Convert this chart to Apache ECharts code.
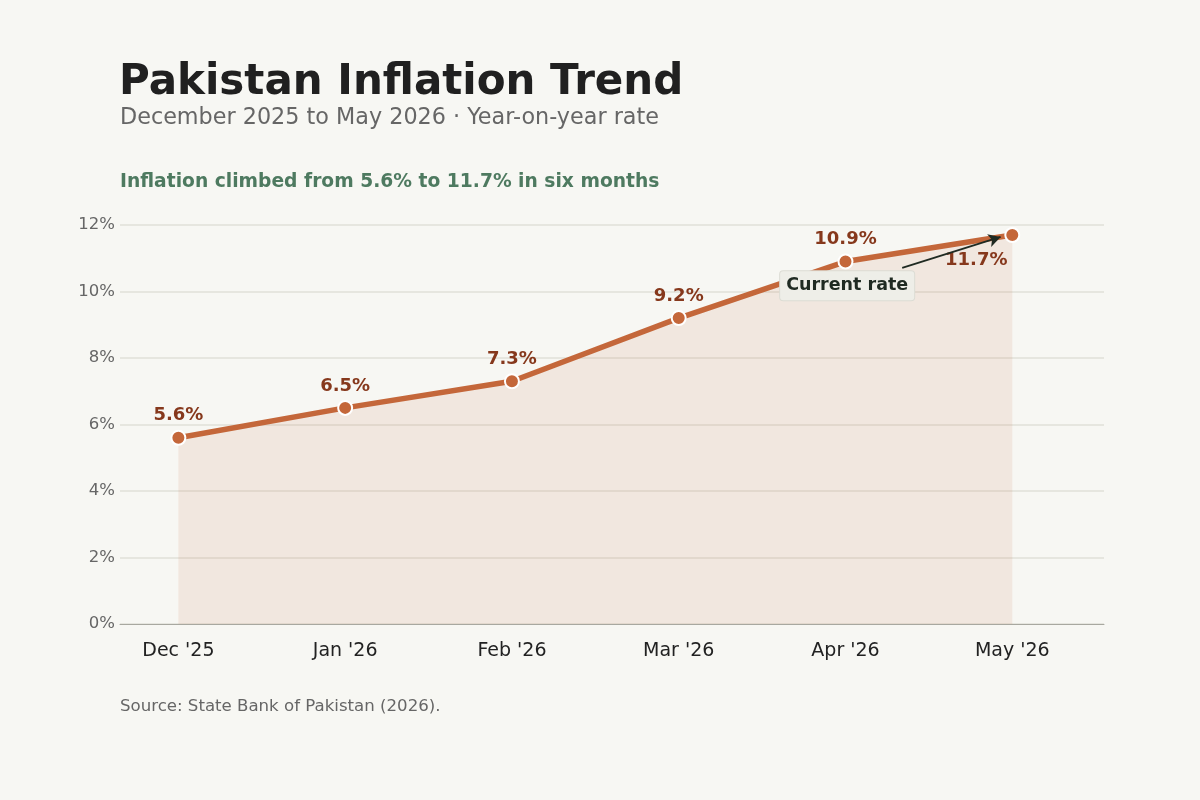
<!DOCTYPE html>
<html>
<head>
<meta charset="utf-8">
<script src="https://cdn.jsdelivr.net/npm/echarts@6/dist/echarts.min.js"></script>
<style>
  html, body { margin: 0; padding: 0; background: #f7f7f3; }
  #chart { width: 1200px; height: 800px; }
</style>
</head>
<body>
<div id="chart"></div>
<script>
// data
const MONTHS = ["Dec '25", "Jan '26", "Feb '26", "Mar '26", "Apr '26", "May '26"];
const RATES = [5.6, 6.5, 7.3, 9.2, 10.9, 11.7];
const Y_TICKS = [0, 2, 4, 6, 8, 10, 12];

const FONT = '"DejaVu Sans", sans-serif';
const LINE = '#c4673a';
const LABEL = '#86381c';

const chart = echarts.init(document.getElementById('chart'), null, { renderer: 'canvas' });

const points = RATES.map((v, i) => {
    const last = i === RATES.length - 1;
    return {
        value: [i, v],
        label: last
            ? { position: 'bottom', offset: [-36, 3] }
            : { position: 'top', distance: 5 }
    };
});

const option = {
    backgroundColor: '#f7f7f3',
    animation: false,
    textStyle: { fontFamily: FONT },
    title: [
        {
            text: 'Pakistan Inflation Trend', left: 119, top: 62, padding: 0,
            textStyle: { fontFamily: FONT, fontSize: 42, fontWeight: 'bold', color: '#202020' }
        },
        {
            text: 'December 2025 to May 2026 · Year-on-year rate', left: 120, top: 107, padding: 0,
            textStyle: { fontFamily: FONT, fontSize: 22.3, fontWeight: 'normal', color: '#666666' }
        },
        {
            text: 'Inflation climbed from 5.6% to 11.7% in six months', left: 120, top: 173, padding: 0,
            textStyle: { fontFamily: FONT, fontSize: 18.7, fontWeight: 'bold', color: '#4e7a60' }
        },
        {
            text: 'Source: State Bank of Pakistan (2026).', left: 120, top: 698, padding: 0,
            textStyle: { fontFamily: FONT, fontSize: 16.6, fontWeight: 'normal', color: '#666666' }
        }
    ],
    grid: { left: 120, right: 96, top: 225, bottom: 176 },
    xAxis: {
        type: 'value',
        min: -0.35, max: 5.55,
        axisLine: { show: true, lineStyle: { color: '#a8a8a0', width: 1 } },
        axisTick: { show: false },
        splitLine: { show: false },
        axisLabel: {
            customValues: MONTHS.map((_, i) => i),
            formatter: v => MONTHS[Math.round(v)] || '',
            color: '#222222', fontSize: 19, margin: 18, fontFamily: FONT
        }
    },
    yAxis: {
        type: 'value',
        min: 0, max: 12, interval: 2,
        axisLine: { show: false },
        axisTick: { show: false },
        splitLine: { lineStyle: { color: '#e0e0d8', width: 1.5 } },
        axisLabel: {
            customValues: Y_TICKS,
            formatter: v => v + '%',
            padding: [7, 0, 0, 0],
            color: '#666666', fontSize: 16.5, margin: 5, fontFamily: FONT
        }
    },
    series: [{
        type: 'line',
        data: points,
        symbol: 'circle',
        symbolSize: 14,
        itemStyle: { color: LINE, borderColor: '#ffffff', borderWidth: 2 },
        lineStyle: { color: LINE, width: 5.5 },
        areaStyle: { color: 'rgba(196,103,58,0.15)' },
        label: {
            show: true,
            formatter: p => p.value[1].toFixed(1) + '%',
            color: LABEL, fontSize: 18, fontWeight: 'bold', fontFamily: FONT
        },
        emphasis: { disabled: true },
        markLine: {
            silent: true,
            symbol: ['none', 'arrow'],
            symbolSize: [10, 12],
            label: { show: false },
            lineStyle: { color: '#1f2a22', width: 1.8, type: 'solid' },
            data: [[{ coord: [4.34, 10.71] }, { coord: [4.93, 11.64] }]]
        },
        markPoint: {
            silent: true,
            symbol: 'rect',
            symbolSize: 0,
            data: [{
                coord: [4.01, 10.17],
                label: {
                    show: true,
                    position: 'inside',
                    formatter: 'Current rate',
                    color: '#1f2a22', fontSize: 17.5, fontWeight: 'bold', fontFamily: FONT,
                    backgroundColor: '#eeeee8',
                    borderColor: '#dcdcd4', borderWidth: 1, borderRadius: 3,
                    padding: [6, 6, 5, 6]
                }
            }]
        }
    }]
};

chart.setOption(option);
</script>
</body>
</html>
